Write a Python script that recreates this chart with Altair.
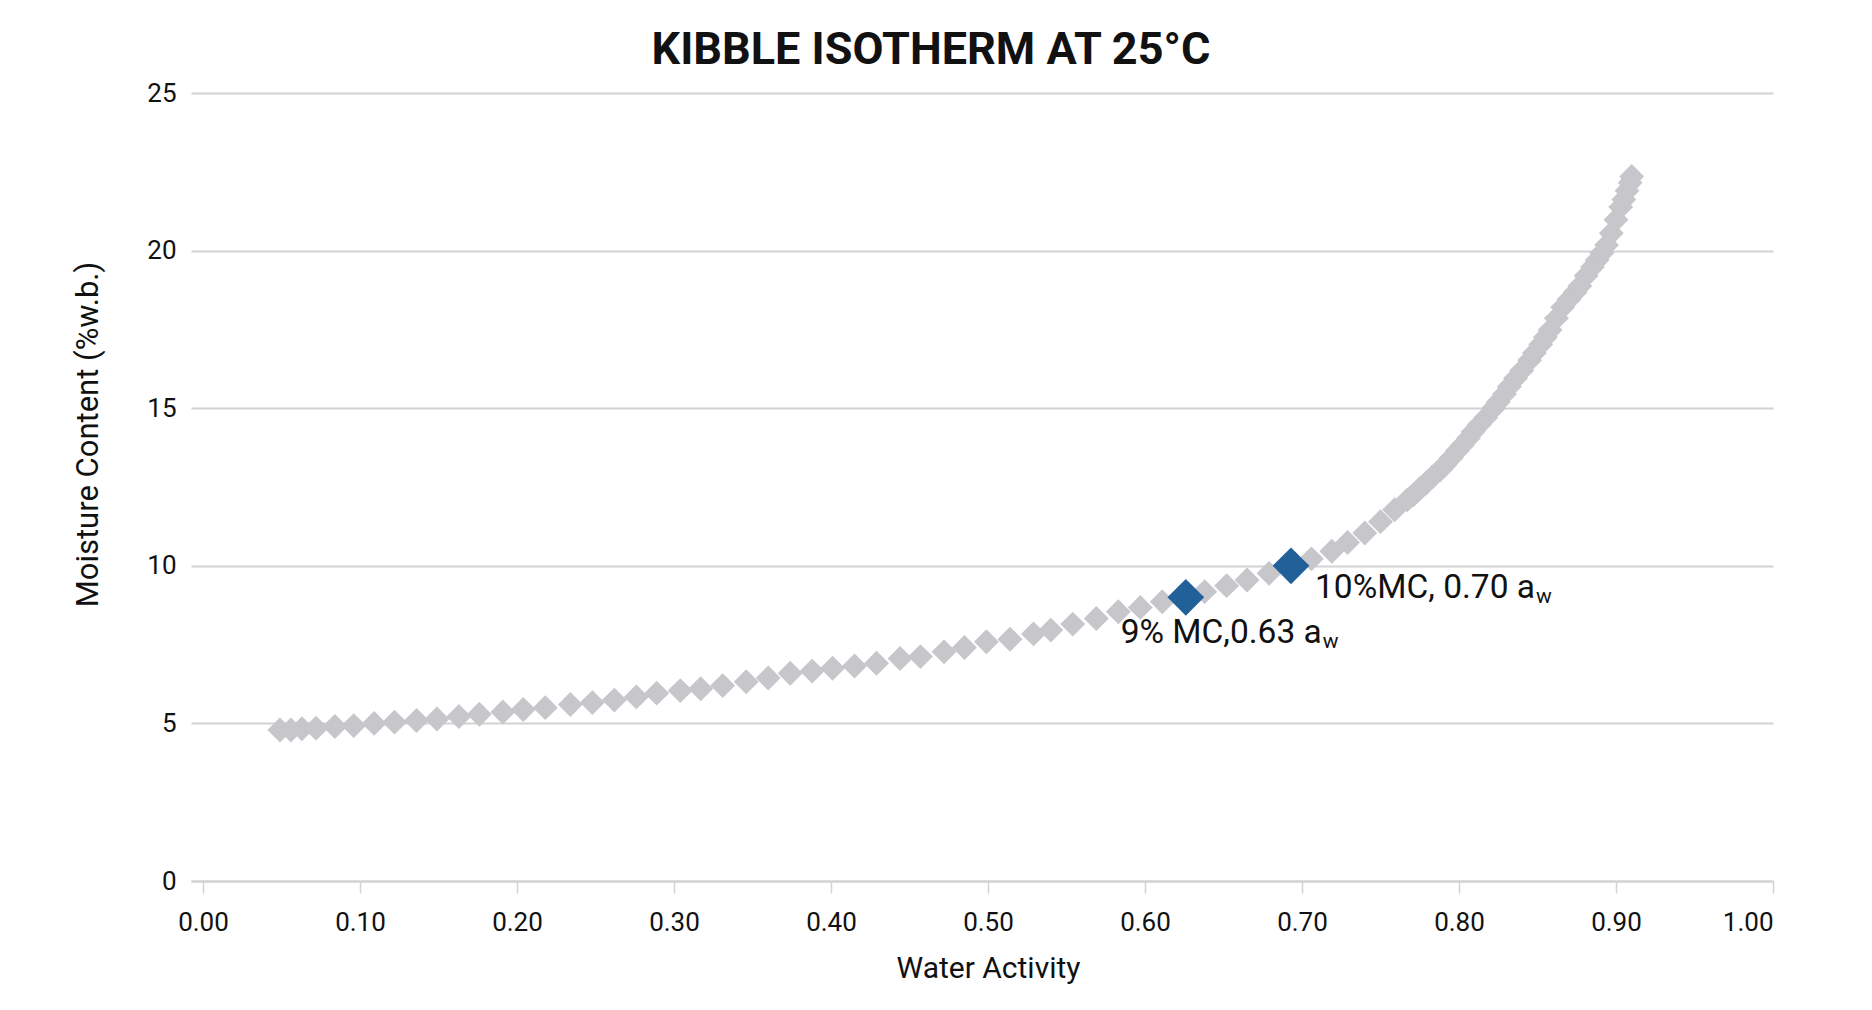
import altair as alt
import pandas as pd

# ---- data ----
water_activity = [
    0.049, 0.056, 0.063, 0.072, 0.084, 0.096, 0.109, 0.122, 0.136, 0.149,
    0.163, 0.176, 0.191, 0.204, 0.218, 0.234, 0.248, 0.262, 0.276, 0.289,
    0.304, 0.317, 0.331, 0.346, 0.360, 0.374, 0.388, 0.401, 0.415, 0.429,
    0.444, 0.457, 0.472, 0.485, 0.499, 0.514, 0.529, 0.540, 0.554, 0.569,
    0.583, 0.597, 0.611, 0.625, 0.638, 0.652, 0.665, 0.679, 0.693, 0.706,
    0.719, 0.729, 0.740, 0.750, 0.759,
    0.767, 0.771, 0.775, 0.779, 0.783, 0.788, 0.791, 0.795, 0.799, 0.802,
    0.806, 0.809, 0.813, 0.817, 0.822, 0.825, 0.829, 0.832, 0.836, 0.840,
    0.845, 0.848, 0.852, 0.855, 0.858, 0.862, 0.866, 0.870, 0.874, 0.877,
    0.881, 0.885, 0.888, 0.891, 0.894, 0.897, 0.900, 0.903, 0.905, 0.907,
    0.909, 0.910,
]
moisture_content = [
    4.79, 4.79, 4.83, 4.85, 4.90, 4.93, 5.00, 5.04, 5.09, 5.14,
    5.22, 5.29, 5.36, 5.44, 5.50, 5.60, 5.66, 5.74, 5.84, 5.96,
    6.04, 6.10, 6.20, 6.32, 6.44, 6.59, 6.66, 6.75, 6.82, 6.91,
    7.06, 7.12, 7.27, 7.41, 7.59, 7.67, 7.84, 7.96, 8.15, 8.33,
    8.54, 8.68, 8.86, 9.02, 9.18, 9.37, 9.55, 9.76, 9.98, 10.22,
    10.46, 10.74, 11.04, 11.40, 11.78,
    12.09, 12.25, 12.45, 12.62, 12.82, 13.04, 13.20, 13.42, 13.65, 13.82,
    14.05, 14.25, 14.48, 14.70, 15.00, 15.20, 15.45, 15.68, 15.95, 16.20,
    16.52, 16.75, 17.02, 17.25, 17.48, 17.85, 18.20, 18.45, 18.68, 18.88,
    19.20, 19.48, 19.70, 19.92, 20.18, 20.55, 20.98, 21.38, 21.62, 21.90,
    22.15, 22.35,
]

highlight_aw = [0.626, 0.693]
highlight_mc = [9.0, 10.0]
highlight_text = ["9% MC,0.63 a", "10%MC, 0.70 a"]
highlight_sub = ["w", "w"]

x_ticks = [0.0, 0.1, 0.2, 0.3, 0.4, 0.5, 0.6, 0.7, 0.8, 0.9, 1.0]
y_ticks = [0, 5, 10, 15, 20, 25]

TITLE = "KIBBLE ISOTHERM AT 25°C"
X_TITLE = "Water Activity"
Y_TITLE = "Moisture Content (%w.b.)"

# ---- build ----
df = pd.DataFrame({"aw": water_activity, "mc": moisture_content})
hl = pd.DataFrame({"aw": highlight_aw, "mc": highlight_mc,
                   "label": highlight_text, "sub": highlight_sub})

FONT = "Roboto"
GRID = "#d2d1d4"

x_scale = alt.Scale(domain=[-0.00764, 1.0], nice=False, zero=False)
y_scale = alt.Scale(domain=[0, 25], nice=False)

x_enc = alt.X("aw:Q", scale=x_scale, axis=alt.Axis(
    title=X_TITLE, values=x_ticks, format=".2f", grid=False,
    domain=True, domainColor=GRID, domainWidth=2,
    ticks=True, tickColor=GRID, tickSize=12, tickWidth=1.5,
    labelFont=FONT, labelFontSize=26, labelColor="#111111", labelPadding=16,
    titleFont=FONT, titleFontSize=30, titleFontWeight="normal", titleColor="#111111",
    titleX=797, titleY=96, titleBaseline="alphabetic", titleAnchor="start", titleAlign="center",
))
y_enc = alt.Y("mc:Q", scale=y_scale, axis=alt.Axis(
    title=Y_TITLE, values=y_ticks, format="d", grid=True,
    gridColor=GRID, gridWidth=2, domain=False, ticks=False, tickSize=0,
    labelFont=FONT, labelFontSize=26, labelColor="#111111", labelPadding=15,
    titleFont=FONT, titleFontSize=31, titleFontWeight="normal", titleColor="#111111",
    titleAngle=270, titleX=-94, titleY=341, titleBaseline="alphabetic", titleAlign="center",
))

base_points = alt.Chart(df).mark_point(
    shape="diamond", filled=True, size=620, color="#c7c6ca", opacity=1
).encode(x=x_enc, y=y_enc)

hl_points = alt.Chart(hl).mark_point(
    shape="diamond", filled=True, size=1350, color="#22609a", opacity=1
).encode(x="aw:Q", y="mc:Q")

hl1 = hl.iloc[[0]]
hl2 = hl.iloc[[1]]

lab1 = alt.Chart(hl1).mark_text(
    align="right", baseline="alphabetic", dx=136, dy=46,
    font=FONT, fontSize=33.5, color="#111111"
).encode(x="aw:Q", y="mc:Q", text="label:N")
sub1 = alt.Chart(hl1).mark_text(
    align="left", baseline="alphabetic", dx=137, dy=51,
    font=FONT, fontSize=21, color="#111111"
).encode(x="aw:Q", y="mc:Q", text="sub:N")

lab2 = alt.Chart(hl2).mark_text(
    align="right", baseline="alphabetic", dx=244, dy=32,
    font=FONT, fontSize=33.5, color="#111111"
).encode(x="aw:Q", y="mc:Q", text="label:N")
sub2 = alt.Chart(hl2).mark_text(
    align="left", baseline="alphabetic", dx=245, dy=37,
    font=FONT, fontSize=21, color="#111111"
).encode(x="aw:Q", y="mc:Q", text="sub:N")

chart = alt.layer(base_points, hl_points, lab1, sub1, lab2, sub2).properties(
    width=1582,
    height=788,
    title=alt.TitleParams(
        TITLE, font=FONT, fontSize=45, fontWeight="bold", color="#111111",
        anchor="middle", frame="group", dx=-51, dy=50, offset=21, baseline="alphabetic",
    ),
    autosize=alt.AutoSizeParams(type="none"),
    padding={"left": 183, "top": 85, "right": 80, "bottom": 110},
    background="white",
).configure_view(stroke=None)

chart.save("out.html", embed_options={"renderer": "svg", "actions": False})
